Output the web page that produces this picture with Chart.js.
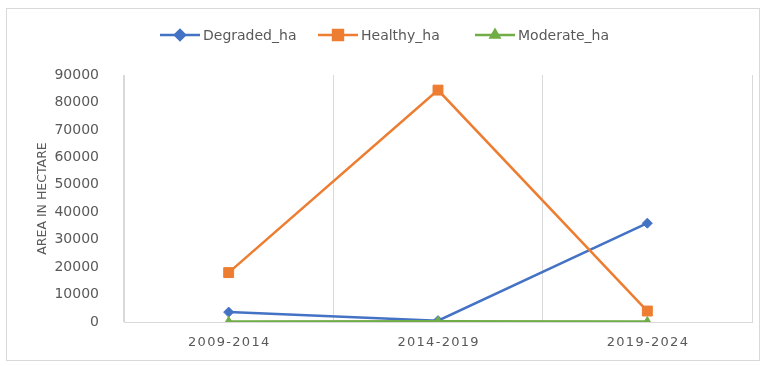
<!DOCTYPE html>
<html>
<head>
<meta charset="utf-8">
<script src="https://cdn.jsdelivr.net/npm/chart.js@4.4.1/dist/chart.umd.min.js"></script>
<style>
  html, body { margin: 0; padding: 0; background: #fff; }
  #wrap { position: relative; width: 767px; height: 366px; }
  #frame { position: absolute; left: 6px; top: 8px; width: 754px; height: 353px; border: 1px solid #d9d9d9; box-sizing: border-box; }
  #chart { position: absolute; left: 0; top: 0; }
</style>
</head>
<body>
<div id="wrap">
  <div id="frame"></div>
  <canvas id="chart" width="767" height="366"></canvas>
</div>
<script>
// periods on the x axis
const periods = ['2009-2014', '2014-2019', '2019-2024'];

// area per class, in hectares
const degradedHa = [3600, 500, 36000];
const healthyHa = [18000, 84500, 4000];
const moderateHa = [200, 300, 150];

const seriesNames = ['Degraded_ha', 'Healthy_ha', 'Moderate_ha'];
const seriesColors = ['#4472C4', '#ED7D31', '#70AD47'];
const seriesMarkers = ['rectRot', 'rect', 'triangle'];
const markerSizes = [5, 7, 5];

const yMax = 90000;
const yStep = 10000;

const textColor = '#595959';
const gridColor = '#d9d9d9';
const fontFamily = '"DejaVu Sans", sans-serif';

// spread the category labels a bit, like the original axis
function spaced(str) {
    return str.split('').join('\u200A');
}

// legend drawn by hand: short line with the marker in the middle, then the name
const lineLegend = {
    id: 'lineLegend',
    afterDraw(chart) {
        const ctx = chart.ctx;
        const y = 35;
        const starts = [160, 318, 475];
        ctx.save();
        ctx.font = '14px ' + fontFamily;
        ctx.textBaseline = 'middle';
        ctx.textAlign = 'left';
        seriesNames.forEach(function(name, i) {
            const x = starts[i];
            ctx.strokeStyle = seriesColors[i];
            ctx.lineWidth = 2.5;
            ctx.beginPath();
            ctx.moveTo(x, y);
            ctx.lineTo(x + 40, y);
            ctx.stroke();
            ctx.fillStyle = seriesColors[i];
            Chart.helpers.drawPoint(ctx, {
                pointStyle: seriesMarkers[i],
                radius: markerSizes[i],
                borderWidth: 1
            }, x + 20, y);
            ctx.fillStyle = textColor;
            ctx.fillText(name, x + 43, y + 1);
        });
        ctx.restore();
    }
};

function makeDataset(i, values, order) {
    return {
        label: seriesNames[i],
        data: values,
        borderColor: seriesColors[i],
        backgroundColor: seriesColors[i],
        borderWidth: 2.5,
        pointStyle: seriesMarkers[i],
        pointRadius: markerSizes[i],
        pointBorderWidth: 1,
        pointBackgroundColor: seriesColors[i],
        pointBorderColor: seriesColors[i],
        tension: 0,
        fill: false,
        order: order
    };
}

new Chart(document.getElementById('chart'), {
    type: 'line',
    data: {
        labels: periods,
        datasets: [
            makeDataset(0, degradedHa, 2),
            makeDataset(1, healthyHa, 1),
            makeDataset(2, moderateHa, 0)
        ]
    },
    options: {
        responsive: false,
        animation: false,
        layout: {
            padding: { top: 75, right: 15, bottom: 0, left: 0 }
        },
        plugins: {
            legend: { display: false },
            tooltip: { enabled: false }
        },
        scales: {
            x: {
                offset: true,
                grid: {
                    display: true,
                    offset: true,
                    color: gridColor,
                    lineWidth: 1,
                    drawTicks: false
                },
                border: { display: true, color: gridColor, width: 1 },
                ticks: {
                    color: textColor,
                    font: { family: fontFamily, size: 13 },
                    padding: 13,
                    maxRotation: 0,
                    callback: function(value) {
                        return spaced(this.getLabelForValue(value));
                    }
                },
                afterFit: function(scale) { scale.height = 44; }
            },
            y: {
                min: 0,
                max: yMax,
                ticks: {
                    stepSize: yStep,
                    color: textColor,
                    font: { family: fontFamily, size: 14 },
                    padding: 17,
                    callback: function(value) { return String(value); }
                },
                grid: { display: false },
                border: { display: true, color: gridColor, width: 1 },
                title: {
                    display: true,
                    text: 'AREA IN HECTARE',
                    color: textColor,
                    font: { family: fontFamily, size: 12.5 },
                    padding: { top: 35, bottom: 0 }
                },
                afterFit: function(scale) { scale.width = 124; }
            }
        }
    },
    plugins: [lineLegend]
});
</script>
</body>
</html>
